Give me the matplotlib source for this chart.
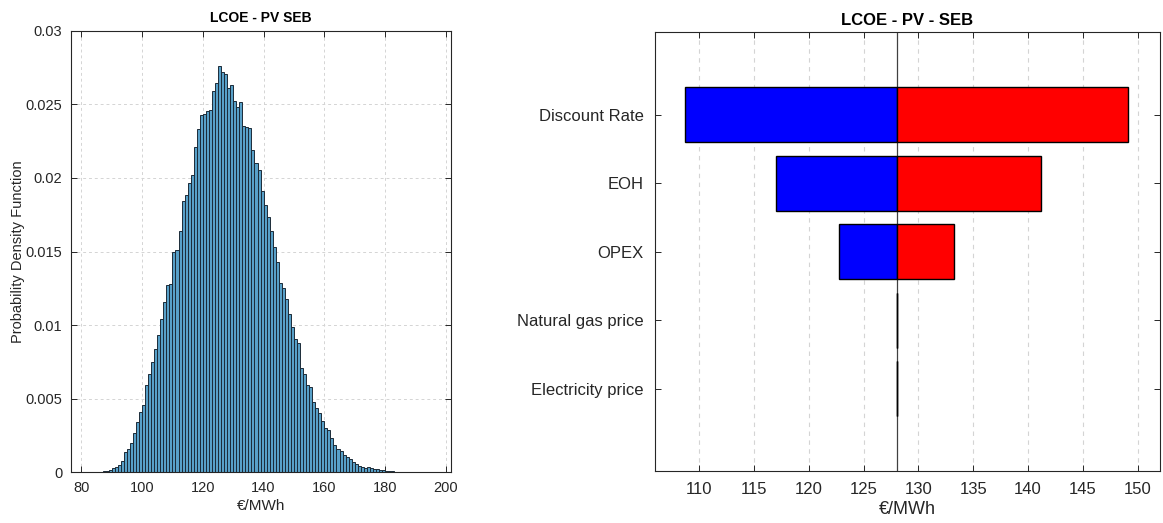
import matplotlib
matplotlib.use("Agg")
import matplotlib.pyplot as plt
import numpy as np

# ---------------- data ----------------
# Histogram (PDF) of LCOE, bins of 1 EUR/MWh starting at bin_start
bin_start = 84
pdf_values = [
    0.00002, 0.00003, 0.00005, 0.00008, 0.00012, 0.00018, 0.00028, 0.00038,  # 84-91
    0.0005, 0.0008, 0.00135, 0.00157, 0.0020, 0.00265, 0.0034, 0.0041,         # 92-99
    0.0046, 0.0059, 0.0067, 0.0075, 0.0084, 0.0093, 0.0104, 0.01155,           # 100-107
    0.01275, 0.0128, 0.01494, 0.0151, 0.01637, 0.01841, 0.01886, 0.01963,      # 108-115
    0.02018, 0.02208, 0.02332, 0.0243, 0.02434, 0.02457, 0.0246, 0.02592,      # 116-123
    0.02647, 0.0276, 0.02722, 0.02708, 0.02611, 0.02629, 0.02524, 0.02484,     # 124-131
    0.02514, 0.02353, 0.02348, 0.02337, 0.0219, 0.0210, 0.02054, 0.01913,      # 132-139
    0.01816, 0.01732, 0.01639, 0.01528, 0.01431, 0.01288, 0.0125, 0.01175,     # 140-147
    0.01075, 0.00989, 0.00908, 0.00876, 0.00707, 0.0067, 0.00593, 0.00577,     # 148-155
    0.00476, 0.00435, 0.0040, 0.0035, 0.0030, 0.0029, 0.0023, 0.00185,         # 156-163
    0.0016, 0.00143, 0.00115, 0.00104, 0.0009, 0.00072, 0.00058, 0.00045,      # 164-171
    0.00034, 0.0003, 0.00033, 0.00027, 0.00023, 0.0002, 0.00016, 0.00014,      # 172-179
    0.0001, 0.00008, 0.00006, 0.00004, 0.00003, 0.00002,                       # 180-185
]
bin_width = 1.0

# Tornado chart
factors = ["Discount Rate", "EOH", "OPEX", "Natural gas price", "Electricity price"]
base_lcoe = 128.03
low_values = [108.72, 117.02, 122.77, 128.03, 128.03]
high_values = [149.15, 141.2, 133.2, 128.03, 128.03]

hist_xticks = [80, 100, 120, 140, 160, 180, 200]
hist_yticks = [0, 0.005, 0.01, 0.015, 0.02, 0.025, 0.03]
hist_yticklabels = ["0", "0.005", "0.01", "0.015", "0.02", "0.025", "0.03"]
tornado_xticks = [110, 115, 120, 125, 130, 135, 140, 145, 150]

# ---------------- figure ----------------
plt.rcParams['font.family'] = ['Liberation Sans', 'DejaVu Sans']
fig = plt.figure(figsize=(11.63, 5.23), dpi=100)

W, H = 1163.0, 523.0
def pos(x0, y0, x1, y1):
    return [x0 / W, 1 - y1 / H, (x1 - x0) / W, (y1 - y0) / H]

# ---- left: histogram ----
ax1 = fig.add_axes(pos(70.7, 30.7, 450.7, 472.3))
edges = bin_start + bin_width * np.arange(len(pdf_values))
ax1.bar(edges, pdf_values, width=bin_width, align='edge',
        color='#58a0c8', edgecolor='#1c2b38', linewidth=0.7, zorder=2)
ax1.set_xlim(76.5, 201.6)
ax1.set_ylim(0, 0.03)
ax1.set_xticks(hist_xticks)
ax1.set_yticks(hist_yticks)
ax1.set_yticklabels(hist_yticklabels)
ax1.grid(True, linestyle=(0, (3, 3)), color='#d4d4d4', linewidth=0.7, zorder=0)
ax1.set_axisbelow(True)
ax1.tick_params(direction='in', top=True, right=True, length=4, width=0.7,
                labelsize=10.5, colors='#262626', pad=6)
for s in ax1.spines.values():
    s.set_color('#262626')
    s.set_linewidth(0.8)
ax1.set_title("LCOE - PV SEB", fontsize=10, fontweight='bold', pad=6)
ax1.set_xlabel("€/MWh", fontsize=11, color='#262626', labelpad=3)
ax1.set_ylabel("Probability Density Function", fontsize=10.5, color='#262626', labelpad=0)

# ---- right: tornado ----
ax2 = fig.add_axes(pos(655, 32.3, 1160, 471))
ypos = np.arange(1, len(factors) + 1)
low_w = [lv - base_lcoe for lv in low_values]
high_w = [hv - base_lcoe for hv in high_values]
ax2.axvline(base_lcoe, color='#404040', linewidth=0.9, zorder=2)
ax2.barh(ypos, low_w, left=base_lcoe, height=0.8, color='#0000ff',
         edgecolor='black', linewidth=1.0, zorder=3)
ax2.barh(ypos, high_w, left=base_lcoe, height=0.8, color='#ff0000',
         edgecolor='black', linewidth=1.0, zorder=3)
ax2.set_xlim(105.95, 152.05)
ax2.set_ylim(6.2, -0.2)
ax2.set_yticks(ypos)
ax2.set_yticklabels(factors, fontsize=12)
ax2.set_xticks(tornado_xticks)
ax2.xaxis.grid(True, linestyle=(0, (4, 4)), color='#d4d4d4', linewidth=0.8, zorder=0)
ax2.set_axisbelow(True)
ax2.tick_params(direction='in', top=True, right=True, length=4, width=0.7,
                labelsize=12, colors='#262626', pad=8)
for s in ax2.spines.values():
    s.set_color('#262626')
    s.set_linewidth(0.8)
ax2.set_title("LCOE - PV - SEB", fontsize=12, fontweight='bold', pad=5)
ax2.set_xlabel("€/MWh", fontsize=13, color='#262626', labelpad=3)

fig.savefig("out.png", dpi=100)
